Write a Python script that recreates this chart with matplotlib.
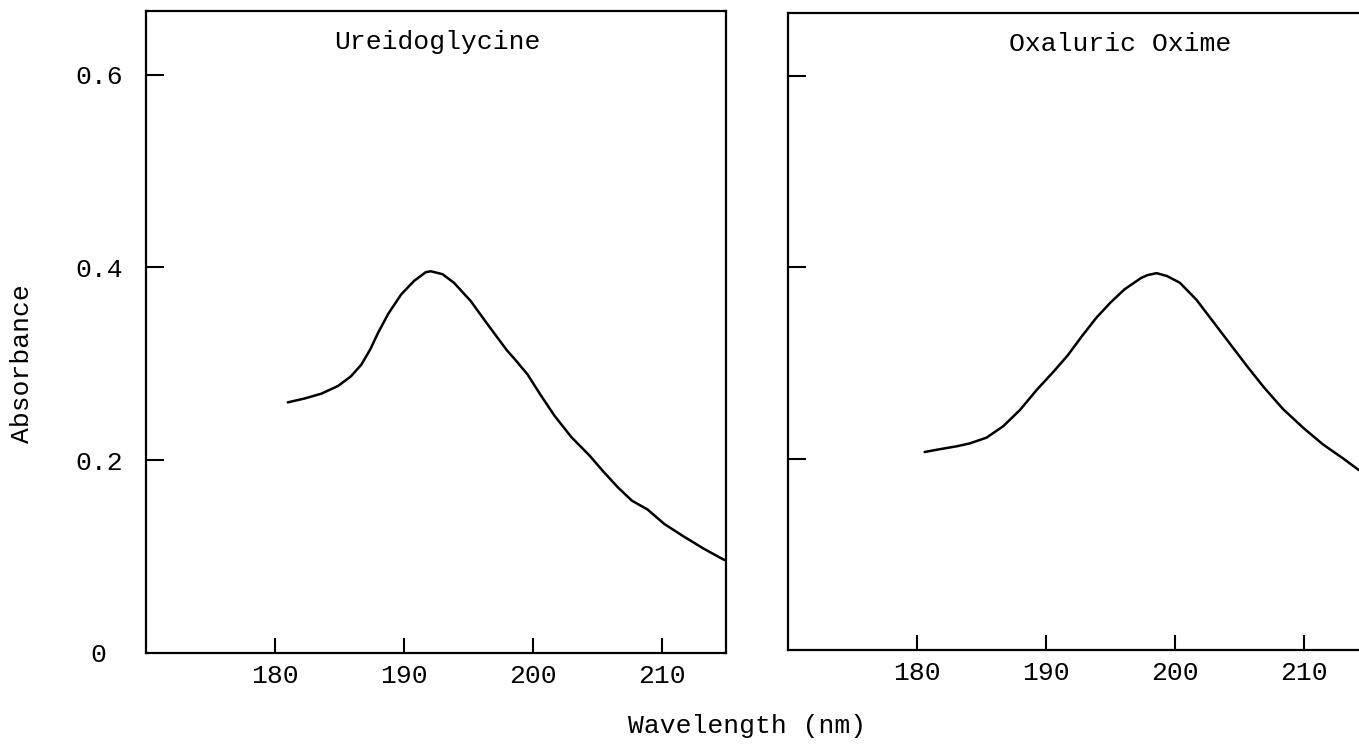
import matplotlib
matplotlib.use("Agg")
import matplotlib.pyplot as plt

# Ureidoglycine spectrum (wavelength nm, absorbance)
wl_ureido = [181.0, 182.3, 183.6, 184.9, 185.9, 186.7, 187.4, 188.0, 188.8, 189.8,
             190.8, 191.7, 192.1, 193.0, 193.9, 195.2, 196.5, 198.0, 198.6, 199.6,
             200.6, 201.7, 203.0, 204.4, 205.5, 206.6, 207.7, 208.9, 210.2, 211.7,
             213.3, 214.8, 215.0]
abs_ureido = [0.260, 0.264, 0.269, 0.277, 0.287, 0.299, 0.315, 0.332, 0.352, 0.372,
              0.386, 0.395, 0.396, 0.393, 0.384, 0.365, 0.341, 0.314, 0.305, 0.289,
              0.268, 0.246, 0.224, 0.205, 0.188, 0.172, 0.158, 0.149, 0.134, 0.121,
              0.108, 0.097, 0.096]

# Oxaluric oxime spectrum
wl_oxime = [180.6, 181.8, 183.1, 184.1, 185.4, 186.7, 188.0, 189.3, 190.6, 191.7,
            192.8, 193.9, 195.0, 196.1, 197.4, 197.9, 198.6, 199.4, 200.4, 201.7,
            203.0, 204.3, 205.6, 206.9, 208.4, 210.0, 211.5, 213.1, 214.3]
abs_oxime = [0.207, 0.210, 0.213, 0.216, 0.222, 0.234, 0.251, 0.272, 0.291, 0.308,
             0.328, 0.347, 0.363, 0.377, 0.389, 0.392, 0.394, 0.391, 0.384, 0.366,
             0.343, 0.320, 0.297, 0.275, 0.252, 0.232, 0.215, 0.200, 0.188]

x_ticks = [180, 190, 200, 210]
y_ticks = [0, 0.2, 0.4, 0.6]
y_tick_labels = ["0", "0.2", "0.4", "0.6"]
titles = ["Ureidoglycine", "Oxaluric Oxime"]

plt.rcParams['font.family'] = ['Liberation Mono', 'DejaVu Sans Mono']
plt.rcParams['font.size'] = 19

W, H = 1359, 745
fig = plt.figure(figsize=(W / 100, H / 100), dpi=100)

# axes boxes placed in pixel terms of the original scan
ax1 = fig.add_axes([146 / W, (H - 653) / H, 580 / W, 642 / H])
ax2 = fig.add_axes([788 / W, (H - 650) / H, 580 / W, 637 / H])

for ax, wl, ab, title, tx in [(ax1, wl_ureido, abs_ureido, titles[0], 0.502),
                              (ax2, wl_oxime, abs_oxime, titles[1], 0.572)]:
    ax.plot(wl, ab, color='black', lw=1.8, solid_capstyle='round',
            solid_joinstyle='round')
    ax.set_xlim(170, 215)
    ax.set_ylim(0, 0.666)
    ax.set_xticks(x_ticks)
    ax.set_yticks(y_ticks)
    ax.tick_params(axis='both', direction='in', width=1.5, color='black')
    ax.tick_params(axis='x', length=11, pad=8)
    ax.tick_params(axis='y', length=13, pad=34)
    for s in ax.spines.values():
        s.set_linewidth(1.6)
    ax.text(tx, 0.952, title, transform=ax.transAxes, ha='center', va='center')

ax1.set_yticklabels(y_tick_labels)
for lab in ax1.get_yticklabels():
    lab.set_ha('center')
ax2.set_yticklabels([])
# y=0 tick sits on the bottom spine, no mark drawn there in the original
ax1.yaxis.get_major_ticks()[0].tick1line.set_visible(False)
ax2.yaxis.get_major_ticks()[0].tick1line.set_visible(False)

fig.text(747 / W, (H - 726) / H, "Wavelength (nm)", ha='center', va='center')
fig.text(22 / W, (H - 364) / H, "Absorbance", rotation=90, ha='center', va='center')

fig.savefig("out.png", dpi=100)
